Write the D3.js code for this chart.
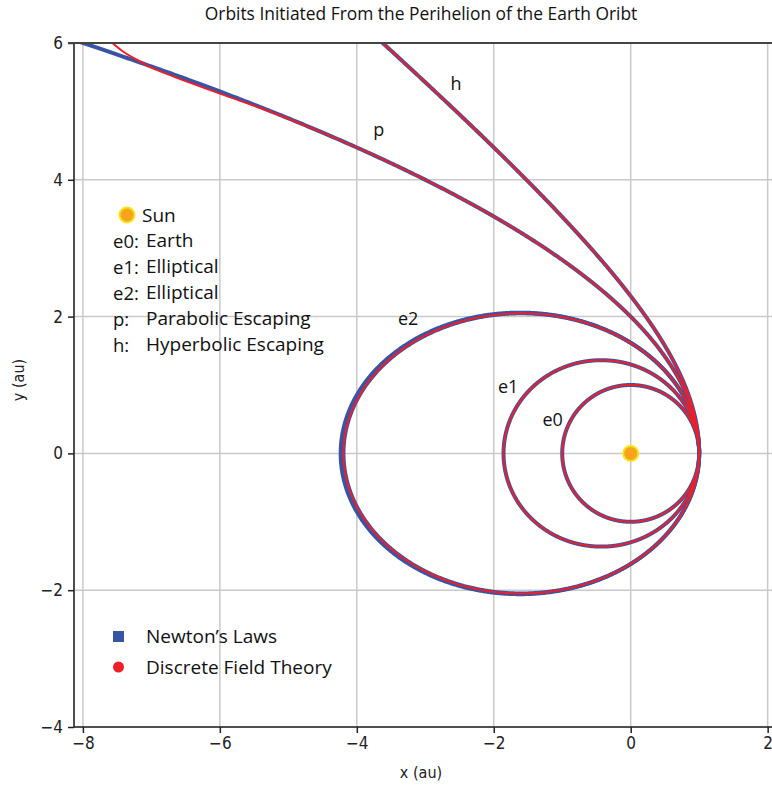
<!DOCTYPE html>
<html>
<head>
<meta charset="utf-8">
<script src="https://cdn.jsdelivr.net/npm/d3@7"></script>
<style>
  html, body { margin: 0; padding: 0; background: #fff; }
  svg { display: block; }
  .lab { font-family: "Open Sans", "Noto Sans", sans-serif; fill: #111; }
  .tick text { font-family: "DejaVu Sans Condensed", "DejaVu Sans", sans-serif; }
</style>
</head>
<body>
<svg id="chart" width="772" height="786"></svg>
<script>
// Orbits launched from the Earth's perihelion (1 au), one per eccentricity
const orbitNames = ["e0", "e1", "e2", "p", "h"];
const perihelion = [1, 1, 1, 1, 1];
// Newton's laws: e2 drifts a little between its two revolutions
const eccNewton = [[0], [0.30], [0.615, 0.618], [1.0], [1.30]];
// Discrete field theory
const eccDFT = [0, 0.30, 0.615, 1.0, 1.30];
// Discrete field theory parabolic path where it leaves the Newtonian one
const dftParabolaTail = [[-4.5, 4.69], [-5.3, 5.01], [-6.0, 5.26], [-6.7, 5.52], [-7.0, 5.64], [-7.22, 5.76], [-7.42, 5.88], [-7.57, 6.0], [-7.7, 6.1]];

const orbitLabels = ["e0", "e1", "e2", "p", "h"];
const orbitLabelPos = [[-1.14, 0.5], [-1.79, 0.99], [-3.25, 1.98], [-3.68, 4.75], [-2.55, 5.41]];

const legendKeys = ["e0:", "e1:", "e2:", "p:", "h:"];
const legendText = ["Earth", "Elliptical", "Elliptical", "Parabolic Escaping", "Hyperbolic Escaping"];
const seriesNames = ["Newton’s Laws", "Discrete Field Theory"];
const xTicks = [-8, -6, -4, -2, 0, 2];
const yTicks = [-4, -2, 0, 2, 4, 6];

const svg = d3.select("#chart");
const x = d3.scaleLinear().domain([-8.13, 2.1]).range([74, 774.5]);
const y = d3.scaleLinear().domain([-4, 6]).range([727, 43]);

const blue = "#3a54a5", red = "#ee1f26";

// grid
const grid = svg.append("g");
grid.selectAll(".gx").data(xTicks).join("line")
  .attr("x1", d => x(d)).attr("x2", d => x(d)).attr("y1", y(6)).attr("y2", y(-4))
  .attr("stroke", "#c9c9c9").attr("stroke-width", 1.5);
grid.selectAll(".gy").data(yTicks).join("line")
  .attr("x1", x(-8.13)).attr("x2", 772).attr("y1", d => y(d)).attr("y2", d => y(d))
  .attr("stroke", "#c9c9c9").attr("stroke-width", 1.5);

// conic path points r = q(1+e)/(1+e cos θ), stopping once outside the view
function conic(q, e) {
  const pts = [];
  const maxT = e < 1 ? 2 * Math.PI : Math.acos(-1 / e) - 1e-4;
  const n = 1400;
  for (let i = 0; i <= n; i++) {
    const t = maxT * i / n;
    const r = q * (1 + e) / (1 + e * Math.cos(t));
    const px = r * Math.cos(t), py = r * Math.sin(t);
    pts.push([px, py]);
    if (py > 6.5 || px < -8.6) break;
  }
  return pts;
}

svg.append("defs").append("clipPath").attr("id", "plot")
  .append("rect").attr("x", 74).attr("y", 43).attr("width", 700).attr("height", 684);

const line = d3.line().x(d => x(d[0])).y(d => y(d[1]));
const smooth = d3.line().x(d => x(d[0])).y(d => y(d[1])).curve(d3.curveCatmullRom);

const orbits = svg.append("g").attr("clip-path", "url(#plot)");

// Newtonian orbits
orbitNames.forEach((name, i) => {
  eccNewton[i].forEach(e => {
    orbits.append("path").attr("d", line(conic(perihelion[i], e)))
      .attr("fill", "none").attr("stroke", blue).attr("stroke-width", 4);
  });
});

// Discrete field theory orbits
orbitNames.forEach((name, i) => {
  let pts = conic(perihelion[i], eccDFT[i]);
  let gen = line;
  if (name === "p") {
    pts = pts.filter(d => d[0] > dftParabolaTail[0][0] + 0.05).concat(dftParabolaTail);
    gen = smooth;
  }
  orbits.append("path").attr("d", gen(pts))
    .attr("fill", "none").attr("stroke", red).attr("stroke-width", 2);
});

// Sun
svg.append("circle").attr("cx", x(0)).attr("cy", y(0)).attr("r", 7.5)
  .attr("fill", "#f8a31c").attr("stroke", "#f5e41a").attr("stroke-width", 2);

// orbit labels
svg.selectAll(".olab").data(orbitLabels).join("text").attr("class", "lab")
  .attr("x", (d, i) => x(orbitLabelPos[i][0])).attr("y", (d, i) => y(orbitLabelPos[i][1]))
  .attr("text-anchor", "middle").attr("dominant-baseline", "central")
  .attr("font-size", 18).text(d => d);

// axes
const fmt = d => d < 0 ? "\u2212" + Math.abs(d) : d;
const xAxis = svg.append("g").attr("transform", `translate(0,${y(-4)})`)
  .call(d3.axisBottom(x).tickValues(xTicks).tickSize(6).tickPadding(4).tickFormat(fmt));
const yAxis = svg.append("g").attr("transform", `translate(${x(-8.13)},0)`)
  .call(d3.axisLeft(y).tickValues(yTicks).tickSize(6).tickPadding(5).tickFormat(fmt));
[xAxis, yAxis].forEach(a => {
  a.select(".domain").remove();
  a.selectAll(".tick line").attr("stroke", "#222").attr("stroke-width", 1.5);
  a.selectAll(".tick text").attr("font-size", 17).attr("fill", "#222");
});
// spines
svg.append("line").attr("x1", 74).attr("x2", 772).attr("y1", y(-4)).attr("y2", y(-4))
  .attr("stroke", "#222").attr("stroke-width", 1.6);
svg.append("line").attr("x1", 74).attr("x2", 74).attr("y1", y(6)).attr("y2", y(-4))
  .attr("stroke", "#222").attr("stroke-width", 1.6);
svg.append("line").attr("x1", 68).attr("x2", 772).attr("y1", y(6)).attr("y2", y(6))
  .attr("stroke", "#444").attr("stroke-width", 2);

// axis titles
svg.append("text").attr("x", 421).attr("y", 772).attr("text-anchor", "middle")
  .attr("dominant-baseline", "central")
  .attr("font-family", "DejaVu Sans Condensed, DejaVu Sans, sans-serif").attr("font-size", 16)
  .attr("fill", "#222").text("x (au)");
svg.append("text").attr("transform", "translate(18,380) rotate(-90)").attr("text-anchor", "middle")
  .attr("dominant-baseline", "central")
  .attr("font-family", "DejaVu Sans Condensed, DejaVu Sans, sans-serif").attr("font-size", 16)
  .attr("fill", "#222").text("y (au)");

// title
svg.append("text").attr("class", "lab").attr("x", 421).attr("y", 13).attr("text-anchor", "middle")
  .attr("dominant-baseline", "central").attr("font-size", 17.4).text("Orbits Initiated From the Perihelion of the Earth Oribt");

// orbit legend
const lg = svg.append("g");
lg.append("circle").attr("cx", 127).attr("cy", 215).attr("r", 7.5)
  .attr("fill", "#f8a31c").attr("stroke", "#f5e41a").attr("stroke-width", 2);
lg.append("text").attr("class", "lab").attr("x", 142).attr("y", 215).attr("dominant-baseline", "central")
  .attr("font-size", 19).text("Sun");
legendKeys.forEach((k, i) => {
  const yy = 240 + i * 26;
  lg.append("text").attr("class", "lab").attr("x", 113).attr("y", yy).attr("dominant-baseline", "central")
    .attr("font-size", 18.5).text(k);
  lg.append("text").attr("class", "lab").attr("x", 146).attr("y", yy).attr("dominant-baseline", "central")
    .attr("font-size", 19).text(legendText[i]);
});

// series legend
const sl = svg.append("g");
sl.append("rect").attr("x", 113).attr("y", 631).attr("width", 11).attr("height", 11).attr("fill", blue);
sl.append("circle").attr("cx", 118.5).attr("cy", 667).attr("r", 5.5).attr("fill", red);
seriesNames.forEach((s, i) => {
  sl.append("text").attr("class", "lab").attr("x", 146).attr("y", 636 + i * 31).attr("dominant-baseline", "central")
    .attr("font-size", 19).text(s);
});
</script>
</body>
</html>
